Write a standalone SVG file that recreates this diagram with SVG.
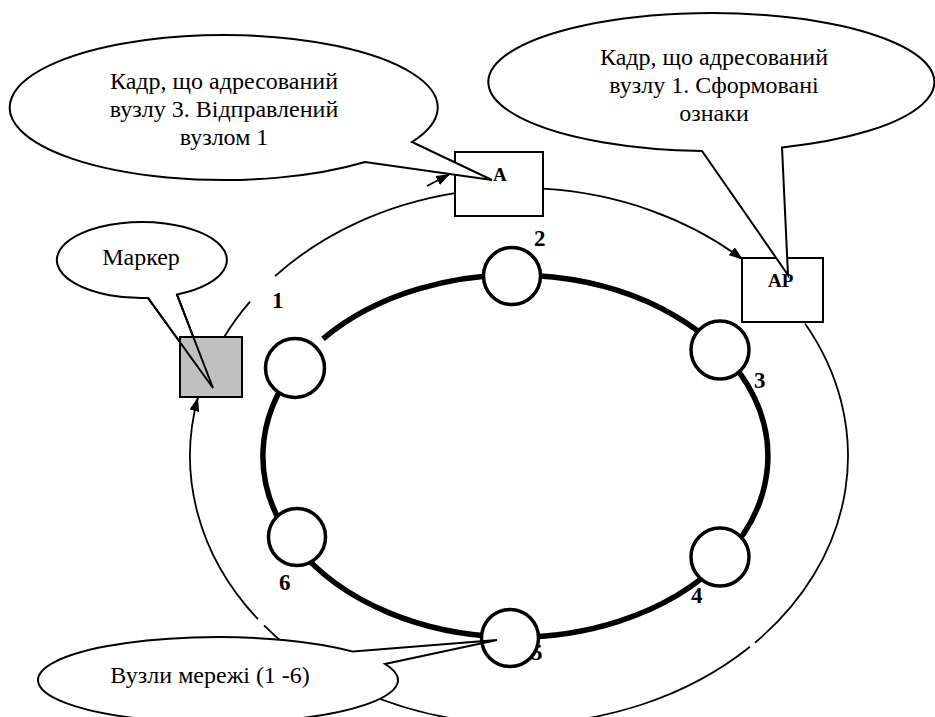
<svg xmlns="http://www.w3.org/2000/svg" width="935" height="717" viewBox="0 0 935 717">
  <style>
    .thin { fill: none; stroke: #000; stroke-width: 1.8; }
    .ring { fill: none; stroke: #000; stroke-width: 5.5; }
    .node { fill: #fff; stroke: #000; stroke-width: 3.5; }
    .box { fill: #fff; stroke: #000; stroke-width: 2; }
    .callout { fill: #fff; stroke: #000; stroke-width: 2; stroke-linejoin: miter; }
    .ptr { fill: none; stroke: #000; stroke-width: 2; }
    .num { font-family: "Liberation Serif", "Times New Roman", serif; font-weight: bold; font-size: 23px; fill: #000; }
    .lbl { font-family: "Liberation Serif", "Times New Roman", serif; font-weight: bold; font-size: 19px; fill: #000; }
    .txt { font-family: "Liberation Serif", "Times New Roman", serif; font-size: 24px; fill: #000; text-anchor: middle; }
  </style>
  <defs>
    <marker id="arrow" viewBox="0 0 14 10" refX="14" refY="5" markerWidth="14" markerHeight="10" markerUnits="userSpaceOnUse" orient="auto">
      <path d="M0,0 L14,5 L0,10 z" fill="#000"/>
    </marker>
  </defs>

  <rect width="935" height="717" fill="#fff"/>

  <!-- token path around the ring (thin ellipse split into segments) -->
  <g id="connectors">
    <path class="thin" d="M223,339 A329,268 0 0 1 250,301.7"/>
    <path class="thin" d="M275,276.2 A329,268 0 0 1 455,193.1"/>
    <path class="thin" d="M543,188.7 A329,268 0 0 1 743,259.7" marker-end="url(#arrow)"/>
    <path class="thin" d="M805,323.5 A329,268 0 0 1 755,642.7"/>
    <path class="thin" d="M750,646.8 A329,268 0 0 1 264,625.3"/>
    <path class="thin" d="M258,619.2 A329,268 0 0 1 198,397.3" marker-end="url(#arrow)"/>
    <line class="thin" x1="427" y1="186" x2="450" y2="174" marker-end="url(#arrow)"/>
  </g>

  <!-- physical ring -->
  <g id="ring">
    <path class="ring" d="M323,338.9 A252.5,181 0 1 1 295,367.8"/>
  </g>

  <!-- node numbers -->
  <g id="labels">
    <text class="num" x="272" y="308">1</text>
    <text class="num" x="534" y="246">2</text>
    <text class="num" x="754" y="388">3</text>
    <text class="num" x="691" y="603">4</text>
    <text class="num" x="531" y="660">5</text>
    <text class="num" x="279" y="590">6</text>
  </g>

  <!-- network nodes -->
  <g id="node1"><circle class="node" cx="295" cy="368" r="29.5"/></g>
  <g id="node2"><circle class="node" cx="512" cy="276" r="28.5"/></g>
  <g id="node3"><circle class="node" cx="720" cy="350" r="29"/></g>
  <g id="node4"><circle class="node" cx="720" cy="557" r="29"/></g>
  <g id="node5"><circle class="node" cx="510" cy="638" r="28.5"/></g>
  <g id="node6"><circle class="node" cx="297" cy="537" r="28.5" stroke-width="2.5"/></g>

  <!-- frame boxes -->
  <g id="frameA">
    <rect class="box" x="455" y="152" width="88" height="64"/>
    <text class="lbl" x="493" y="181">A</text>
  </g>
  <g id="frameAP">
    <rect class="box" x="742" y="258" width="81" height="64"/>
    <text class="lbl" x="768" y="287">AP</text>
  </g>

  <!-- callouts -->
  <g id="callout-sent">
    <path class="callout" d="M412,142 L492,180 L365,162 A214,72.5 0 1 1 412,142 Z"/>
    <text class="txt" x="224" y="89">Кадр, що адресований</text>
    <text class="txt" x="224" y="117">вузлу 3. Відправлений</text>
    <text class="txt" x="224" y="145">вузлом 1</text>
  </g>
  <g id="callout-received">
    <path class="callout" d="M782,147.4 L788,275 L702,150.9 A223,69 0 1 1 782,147.4 Z"/>
    <text class="txt" x="714" y="65">Кадр, що адресований</text>
    <text class="txt" x="714" y="93">вузлу 1. Сформовані</text>
    <text class="txt" x="714" y="121">ознаки</text>
  </g>
  <g id="callout-nodes">
    <path class="callout" d="M353,651.6 L497,640 L385,664 A180,43 0 1 1 353,651.6 Z"/>
    <text class="txt" x="210" y="683">Вузли мережі (1 -6)</text>
  </g>
  <g id="callout-token">
    <path class="callout" d="M177,294.6 L213,388 L148,297.9 A85,38 0 1 1 177,294.6 Z"/>
    <text class="txt" x="141" y="265">Маркер</text>
  </g>

  <!-- token (drawn over its callout pointer) -->
  <g id="token">
    <rect x="180" y="337" width="62" height="60" fill="#c0c0c0" stroke="#000" stroke-width="2"/>
    <path class="ptr" d="M177,294.6 L213,388 L148,297.9"/>
  </g>
</svg>
